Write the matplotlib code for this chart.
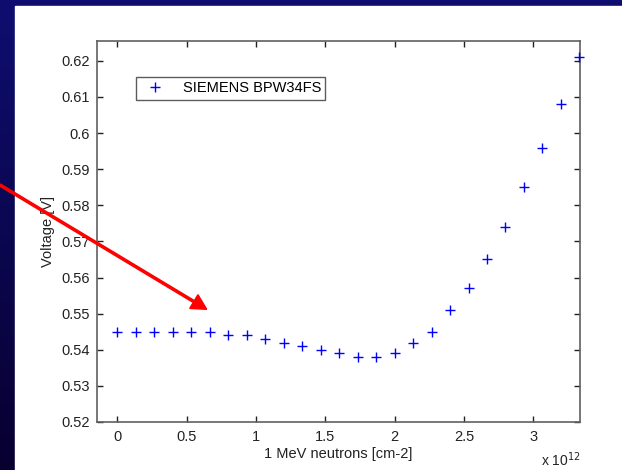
import numpy as np
import matplotlib
matplotlib.use("Agg")
import matplotlib.pyplot as plt
from matplotlib.patches import Rectangle, FancyArrow
from matplotlib.ticker import FuncFormatter

plt.rcParams['font.family'] = ['Liberation Sans', 'DejaVu Sans']

# fluence steps (1 MeV neutrons, units of 1e12 cm-2) and measured voltage
fluence = np.arange(26) * (3.333 / 25)
voltage = [0.545, 0.545, 0.545, 0.545, 0.545, 0.545, 0.544, 0.544, 0.543,
           0.542, 0.541, 0.540, 0.539, 0.538, 0.538, 0.539, 0.542, 0.545,
           0.551, 0.557, 0.565, 0.574, 0.585, 0.596, 0.608, 0.621]
x_ticks = [0, 0.5, 1, 1.5, 2, 2.5, 3]
y_ticks = [0.52, 0.53, 0.54, 0.55, 0.56, 0.57, 0.58, 0.59, 0.60, 0.61, 0.62]
y_tick_labels = ['0.52', '0.53', '0.54', '0.55', '0.56', '0.57', '0.58',
                 '0.59', '0.6', '0.61', '0.62']

W, H = 622, 470
FS = 10.5
TXT = '#222222'
fig = plt.figure(figsize=(W / 100, H / 100), dpi=100)

# slide background: navy gradient with white frame
bg = fig.add_axes([0, 0, 1, 1], zorder=-10)
grad = np.linspace(0, 1, 256)[:, None]
top = np.array([14, 14, 112]) / 255
bot = np.array([8, 0, 48]) / 255
img = top[None, None, :] * (1 - grad[..., None]) + bot[None, None, :] * grad[..., None]
bg.imshow(img, aspect='auto', extent=[0, 1, 0, 1])
bg.add_patch(Rectangle((15 / W, 0), 1 - 15 / W, 1 - 6 / H, color='white'))
bg.set_xlim(0, 1)
bg.set_ylim(0, 1)
bg.axis('off')

ax = fig.add_axes([97 / W, 1 - 422 / H, (580 - 97) / W, (422 - 41) / H])
ax.plot(fluence * 1e12, voltage, '+', color='#0000ff', markersize=7.5,
        markeredgewidth=1.0, label='SIEMENS BPW34FS', clip_on=False, zorder=5)

ax.set_xlim(-0.146e12, 3.337e12)
ax.set_ylim(0.52, 0.6255)
ax.set_xticks([t * 1e12 for t in x_ticks])
ax.xaxis.set_major_formatter(FuncFormatter(lambda v, p: f"{v / 1e12:g}"))
ax.set_yticks(y_ticks)
ax.set_yticklabels(y_tick_labels)

ax.tick_params(direction='in', length=4, width=1, top=True, right=True,
               labelsize=FS, labelcolor=TXT, color='#222222')
ax.tick_params(axis='x', pad=6)
ax.tick_params(axis='y', pad=5)
for s in ax.spines.values():
    s.set_color('#606060')
    s.set_linewidth(1.2)

ax.set_xlabel('1 MeV neutrons [cm-2]', fontsize=FS, color=TXT, labelpad=2)
ax.set_ylabel('Voltage [V]', fontsize=FS, color=TXT, labelpad=5)
fig.text(541 / W, 1 - 466 / H, 'x 10$^{12}$', fontsize=10, color=TXT,
         va='baseline', ha='left')

leg = ax.legend(loc='upper left',
                bbox_to_anchor=((136 - 97) / (580 - 97), 1 - (77 - 41) / (422 - 41)),
                fontsize=FS, frameon=True, fancybox=False, borderpad=0.3,
                handlelength=2.0, handletextpad=0.9, borderaxespad=0)
leg.get_frame().set_edgecolor('#333333')
leg.get_frame().set_linewidth(1.0)

# red pointer arrow from the slide
arrow = FancyArrow(0, (H - 185) / 100, 2.067, (185 - 309.3) / 100, width=0.022,
                   head_width=0.16, head_length=0.15, length_includes_head=True,
                   color='#ff0000', transform=fig.dpi_scale_trans)
fig.add_artist(arrow)

fig.savefig('out.png', dpi=100)
